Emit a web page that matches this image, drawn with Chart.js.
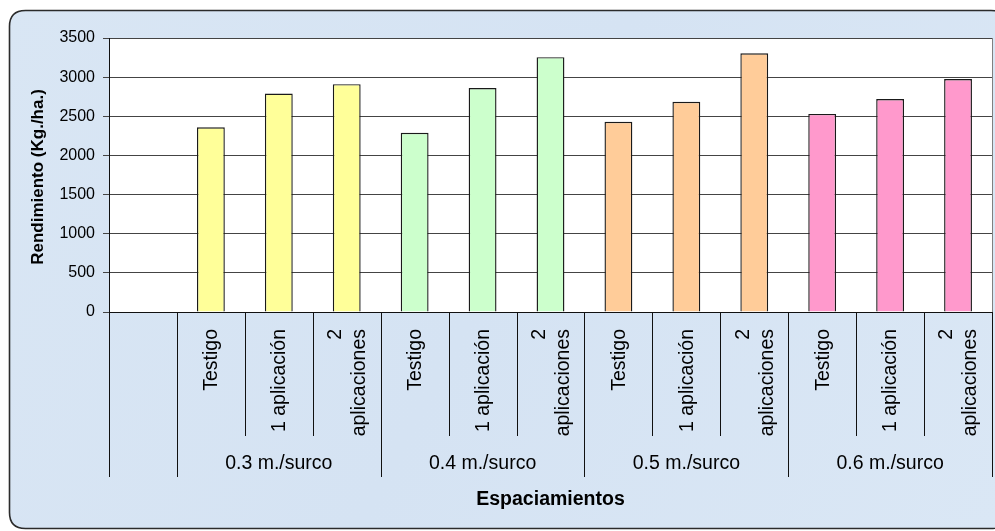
<!DOCTYPE html>
<html>
<head>
<meta charset="utf-8">
<script src="https://cdn.jsdelivr.net/npm/chart.js@4/dist/chart.umd.min.js"></script>
<style>
  html, body { margin: 0; padding: 0; background: #ffffff; }
  #wrap { width: 995px; height: 531px; }
</style>
</head>
<body>
<div id="wrap"><canvas id="c" width="995" height="531"></canvas></div>
<script>
// ---- Data ----
const categories = ['', 'Testigo', '1 aplicación', '2 aplicaciones',
                    'Testigo', '1 aplicación', '2 aplicaciones',
                    'Testigo', '1 aplicación', '2 aplicaciones',
                    'Testigo', '1 aplicación', '2 aplicaciones'];
const groups = ['0.3 m./surco', '0.4 m./surco', '0.5 m./surco', '0.6 m./surco'];
const values = [null, 2360, 2790, 2910, 2290, 2860, 3255, 2430, 2685, 3305, 2530, 2720, 2975];
const groupColors = ['#FFFF99', '#CCFFCC', '#FFCC99', '#FF99CC'];
const yTicks = [0, 500, 1000, 1500, 2000, 2500, 3000, 3500];
const yTitle = 'Rendimiento (Kg./ha.)';
const xTitle = 'Espaciamientos';

const FONT = '"Liberation Sans", Arial, sans-serif';
const barColors = categories.map((c, i) => i === 0 ? 'rgba(0,0,0,0)' : groupColors[Math.floor((i - 1) / 3)]);

function wrapLabel(s) {
  return s === '2 aplicaciones' ? ['2', 'aplicaciones'] : [s];
}

const decor = {
  id: 'decor',
  beforeDraw(chart) {
    const ctx = chart.ctx;
    const ca = chart.chartArea;
    ctx.save();
    // outer rounded panel
    const x0 = 9.5, y0 = 10.5, x1 = 1007, y1 = 528.5, r = 16;
    ctx.beginPath();
    ctx.moveTo(x0 + r, y0);
    ctx.lineTo(x1 - r, y0);
    ctx.quadraticCurveTo(x1, y0, x1, y0 + r);
    ctx.lineTo(x1, y1 - r);
    ctx.quadraticCurveTo(x1, y1, x1 - r, y1);
    ctx.lineTo(x0 + r, y1);
    ctx.quadraticCurveTo(x0, y1, x0, y1 - r);
    ctx.lineTo(x0, y0 + r);
    ctx.quadraticCurveTo(x0, y0, x0 + r, y0);
    ctx.closePath();
    const g = ctx.createLinearGradient(0, 0, 995, 531);
    g.addColorStop(0, '#D9E6F4');
    g.addColorStop(0.5, '#D5E3F3');
    g.addColorStop(1, '#DAE7F5');
    ctx.fillStyle = g;
    ctx.fill();
    ctx.lineWidth = 1.6;
    ctx.strokeStyle = '#2b2b2b';
    ctx.stroke();
    // plot area white
    ctx.fillStyle = '#ffffff';
    ctx.fillRect(ca.left, ca.top, ca.right - ca.left, ca.bottom - ca.top);
    ctx.restore();
  },
  afterDraw(chart) {
    const ctx = chart.ctx;
    const ca = chart.chartArea;
    const xs = chart.scales.x;
    const n = categories.length;
    const step = xs.getPixelForValue(1) - xs.getPixelForValue(0);
    ctx.save();
    // plot right border
    ctx.strokeStyle = '#808080';
    ctx.lineWidth = 1;
    ctx.beginPath();
    ctx.moveTo(Math.round(ca.right) + 0.5, ca.top);
    ctx.lineTo(Math.round(ca.right) + 0.5, ca.bottom);
    ctx.stroke();

    // separators below the axis
    ctx.strokeStyle = '#111';
    ctx.lineWidth = 1;
    const groupBounds = [0, 1, 4, 7, 10, 13];
    for (let b = 0; b <= n; b++) {
      const px = Math.round(xs.getPixelForValue(b) - step / 2) + 0.5;
      const isGroup = groupBounds.includes(b);
      ctx.beginPath();
      ctx.moveTo(px, ca.bottom);
      ctx.lineTo(px, isGroup ? 477 : 436);
      ctx.stroke();
    }

    // rotated category labels
    ctx.fillStyle = '#000';
    ctx.font = '19.5px ' + FONT;
    ctx.textAlign = 'right';
    ctx.textBaseline = 'middle';
    const lh = 24;
    for (let i = 1; i < n; i++) {
      const lines = wrapLabel(categories[i]);
      const cx = xs.getPixelForValue(i);
      ctx.save();
      ctx.translate(cx, 329);
      ctx.rotate(-Math.PI / 2);
      lines.forEach((ln, k) => {
        ctx.fillText(ln, 0, (k - (lines.length - 1) / 2) * lh + 1);
      });
      ctx.restore();
    }

    // group labels
    ctx.font = '19.5px ' + FONT;
    ctx.textAlign = 'center';
    groups.forEach((gname, gi) => {
      const cx = xs.getPixelForValue(2 + gi * 3);
      ctx.fillText(gname, cx, 464);
    });

    // axis titles
    ctx.font = 'bold 19.5px ' + FONT;
    ctx.fillText(xTitle, (ca.left + ca.right) / 2, 500);
    ctx.save();
    ctx.translate(38, (ca.top + ca.bottom) / 2 + 2);
    ctx.rotate(-Math.PI / 2);
    ctx.font = 'bold 17px ' + FONT;
    ctx.fillText(yTitle, 0, 0);
    ctx.restore();
    ctx.restore();
  }
};

new Chart(document.getElementById('c'), {
  type: 'bar',
  data: {
    labels: categories,
    datasets: [{
      data: values,
      backgroundColor: barColors,
      borderColor: '#1a1a1a',
      borderWidth: 1.4,
      borderSkipped: 'bottom',
      barPercentage: 0.41,
      categoryPercentage: 1.0
    }]
  },
  options: {
    responsive: false,
    animation: false,
    devicePixelRatio: 1,
    layout: { padding: { left: 0, top: 38, right: 3, bottom: 0 } },
    plugins: { legend: { display: false }, tooltip: { enabled: false } },
    scales: {
      x: {
        type: 'category',
        offset: true,
        grid: { display: false, drawTicks: false },
        border: { display: true, color: '#111', width: 1 },
        ticks: { display: false },
        afterFit(s) { s.height = 531 - 312; }
      },
      y: {
        min: 0,
        max: 3500,
        afterBuildTicks(s) { s.ticks = yTicks.map(v => ({ value: v })); },
        grid: { color: '#444', lineWidth: 1, tickLength: 6, drawTicks: true },
        border: { display: true, color: '#111', width: 1 },
        ticks: {
          padding: 8,
          color: '#000',
          font: { family: FONT, size: 16 },
          callback: (v) => String(v)
        },
        afterFit(s) { s.width = 109; }
      }
    }
  },
  plugins: [decor]
});
</script>
</body>
</html>
